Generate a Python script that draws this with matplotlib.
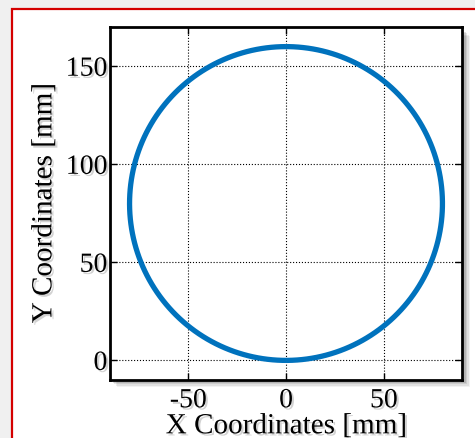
import numpy as np
import matplotlib
matplotlib.use("Agg")
import matplotlib.pyplot as plt
import matplotlib.patheffects as pe
from matplotlib.patches import Rectangle

# donnees du cercle (trajectoire)
centre_x = 0.0
centre_y = 80.0
rayon = 80.0
ticks_x = [-50, 0, 50]
ticks_y = [0, 50, 100, 150]

W, H = 475, 439
plt.rcParams['font.family'] = ['Liberation Serif', 'DejaVu Serif']
plt.rcParams['axes.unicode_minus'] = False

fig = plt.figure(figsize=(W / 100, H / 100), dpi=100, facecolor='#f0f0f0')

# cadre rouge (fond blanc)
fig.patches.append(Rectangle((12 / W, -0.1), 1.2, (H - 10) / H + 0.1,
                             transform=fig.transFigure, facecolor='white',
                             edgecolor='#d40000', linewidth=1.6, zorder=-3))

# position des axes en pixels
x0, x1, y0, y1 = 110, 462, 28, 381
pos = [x0 / W, (H - y1) / H, (x1 - x0) / W, (y1 - y0) / H]

# ombre portee des axes
for i, a in enumerate([0.05, 0.07, 0.09, 0.12]):
    d = 7 - i * 1.5
    fig.patches.append(Rectangle(((x0 + d) / W, (H - y1 - d) / H),
                                 (x1 - x0 + 1) / W, (y1 - y0 - 2) / H,
                                 transform=fig.transFigure, facecolor='black',
                                 edgecolor='none', alpha=a, zorder=-2))

ax = fig.add_axes(pos)
ax.set_facecolor('white')

theta = np.linspace(0.5 * np.pi, 2.5 * np.pi, 400)
ax.plot(centre_x + rayon * np.cos(theta), centre_y + rayon * np.sin(theta),
        color='#0072BD', linewidth=3.8, solid_capstyle='butt')

ax.set_xlim(-90, 90)
ax.set_ylim(-10, 170)
ax.set_xticks(ticks_x)
ax.set_yticks(ticks_y)
ax.grid(True, color='black', linestyle=':', linewidth=0.8)
ax.tick_params(direction='in', top=True, right=True, length=5, width=1,
               labelsize=20)
ax.tick_params(axis='x', pad=6)
ax.tick_params(axis='y', pad=2)
for s in ax.spines.values():
    s.set_linewidth(2)

ombre = [pe.SimplePatchShadow(offset=(1.5, -1.5), shadow_rgbFace='gray', alpha=0.35), pe.Normal()]
ax.set_xlabel('X Coordinates [mm]', fontsize=21, labelpad=0, path_effects=ombre)
ax.set_ylabel('Y Coordinates [mm]', fontsize=21, labelpad=6, path_effects=ombre)
for lab in ax.get_xticklabels() + ax.get_yticklabels():
    lab.set_path_effects(ombre)

fig.savefig('out.png', dpi=100, facecolor=fig.get_facecolor())
